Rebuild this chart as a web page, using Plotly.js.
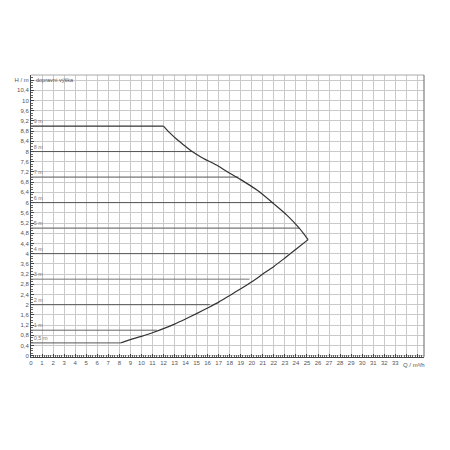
<!DOCTYPE html>
<html>
<head>
<meta charset="utf-8">
<script src="https://cdn.plot.ly/plotly-3.0.1.min.js"></script>
<style>html,body{margin:0;padding:0;background:#fff;}#chart{width:450px;height:450px;}</style>
</head>
<body>
<div id="chart"></div>
<script>
// Pump performance envelope
var upperQ = [12, 12.6, 13.2, 13.8, 14.6, 15.5, 16.8, 18, 19, 20.5, 22, 23.2, 24.3, 25.1];
var upperH = [9, 8.72, 8.48, 8.27, 8.0, 7.76, 7.47, 7.15, 6.9, 6.48, 5.95, 5.5, 5.0, 4.55];
var lowerQ = [25.1, 24, 23, 22, 21, 20, 19, 18, 17, 16, 15, 14, 13, 12, 11, 10, 9, 8.1];
var lowerH = [4.55, 4.17, 3.83, 3.5, 3.2, 2.9, 2.62, 2.36, 2.1, 1.87, 1.65, 1.44, 1.24, 1.06, 0.9, 0.76, 0.63, 0.5];

// Constant head lines
var levelH = [9, 8, 7, 6, 5, 4, 3, 2, 1, 0.5];
var levelEndQ = [12, 14.6, 18.8, 22.0, 24.3, 23.3, 19.8, 16.2, 11.4, 8.1];
var levelLabels = ["9 m", "8 m", "7 m", "6 m", "5 m", "4 m", "3 m", "2 m", "1 m", "0,5 m"];
var levelColors = ["#333", "#555", "#555", "#555", "#777", "#555", "#777", "#555", "#666", "#777"];

// Tick labels
var xTickVals = [];
var xTickText = [];
for (var i = 0; i <= 35; i++) { xTickVals.push(i); xTickText.push(i <= 33 ? String(i) : ""); }
var yTickVals = [];
var yTickText = [];
for (var j = 0; j <= 27; j++) {
  var v = Math.round(j * 0.4 * 10) / 10;
  yTickVals.push(v);
  yTickText.push(j === 27 ? "H / m" : String(v).replace(".", ","));
}

var traces = [];
for (var k = 0; k < levelH.length; k++) {
  traces.push({
    x: [0, levelEndQ[k]], y: [levelH[k], levelH[k]],
    mode: "lines", line: {color: levelColors[k], width: (k === 0 || k === 9 || k === 4) ? 1.3 : 1},
    hoverinfo: "skip", showlegend: false
  });
}
traces.push({
  x: levelH.map(function(){return 0.25;}),
  y: levelH.map(function(h){return h + 0.17;}),
  text: levelLabels, mode: "text", textposition: "middle right",
  textfont: {family: "Liberation Sans, Arial, sans-serif", size: 5.5, color: "#777"},
  hoverinfo: "skip", showlegend: false
});
traces.push({
  x: upperQ, y: upperH,
  mode: "lines", line: {color: "#333", width: 1.2, shape: "spline", smoothing: 0.8},
  hoverinfo: "skip", showlegend: false
});
traces.push({
  x: lowerQ, y: lowerH,
  mode: "lines", line: {color: "#333", width: 1.2, shape: "spline", smoothing: 0.8},
  hoverinfo: "skip", showlegend: false
});

var tickFont = {family: "Liberation Sans, Arial, sans-serif", size: 6, color: "#555"};
var layout = {
  width: 450, height: 450,
  margin: {l: 31, r: 26, t: 75, b: 93},
  paper_bgcolor: "#fff", plot_bgcolor: "#fff",
  xaxis: {
    range: [0, 35.6], tickmode: "array", tickvals: xTickVals, ticktext: xTickText,
    showgrid: true, gridcolor: "#cacaca", gridwidth: 1, zeroline: false,
    showline: true, linecolor: "#444", linewidth: 1,
    ticks: "inside", ticklen: 3, tickcolor: "#444", tickfont: tickFont,
    minor: {dtick: 0.2, ticks: "inside", ticklen: 2, tickcolor: "#666", showgrid: false}
  },
  yaxis: {
    range: [-0.05, 11.0], tickmode: "array", tickvals: yTickVals, ticktext: yTickText,
    showgrid: true, gridcolor: "#cacaca", gridwidth: 1, zeroline: false,
    showline: true, linecolor: "#444", linewidth: 1,
    ticks: "inside", ticklen: 3, tickcolor: "#444", tickfont: tickFont,
    minor: {dtick: 0.1, ticks: "inside", ticklen: 2, tickcolor: "#666", showgrid: false}
  },
  shapes: [
    {type: "line", xref: "paper", yref: "paper", x0: 0, x1: 1, y0: 1, y1: 1, line: {color: "#aaa", width: 1}},
    {type: "line", xref: "paper", yref: "paper", x0: 1, x1: 1, y0: 0, y1: 1, line: {color: "#666", width: 1}}
  ],
  annotations: [
    {x: 0.25, y: 10.8, xref: "x", yref: "y", text: "dopravní výška", showarrow: false,
     xanchor: "left", yanchor: "middle", font: {family: "Liberation Sans, Arial, sans-serif", size: 5.5, color: "#555"}},
    {x: 34.7, y: 0, xref: "x", yref: "paper", text: "Q / m³/h", showarrow: false,
     xanchor: "center", yanchor: "top", yshift: -3, font: tickFont}
  ]
};

Plotly.newPlot("chart", traces, layout, {displayModeBar: false, staticPlot: true});
</script>
</body>
</html>
